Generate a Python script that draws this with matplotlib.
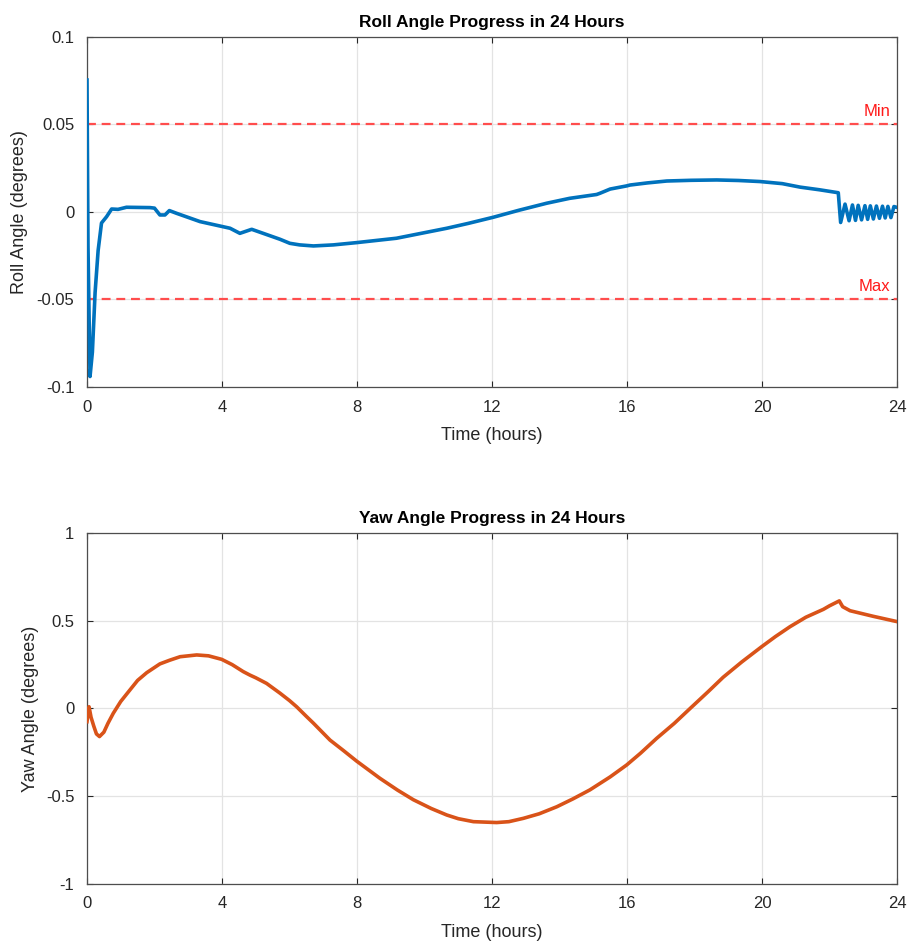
import numpy as np
import matplotlib
matplotlib.use("Agg")
from matplotlib import pyplot as plt

plt.rcParams['font.family'] = ['Liberation Sans', 'DejaVu Sans']

# roll angle samples (hours, degrees)
roll_t = [0.0, 0.03, 0.09, 0.16, 0.24, 0.33, 0.43, 0.58, 0.73, 0.92, 1.17, 1.87, 2.0,
          2.16, 2.31, 2.44, 2.66, 3.35, 4.24, 4.53, 4.88, 5.22, 5.72, 6.01, 6.3, 6.71,
          7.3, 7.99, 9.17, 10.66, 11.3, 12.04, 12.8, 13.62, 14.3, 15.1, 15.2, 15.5,
          15.99, 16.09, 16.6, 17.18, 17.9, 18.66, 19.3, 19.94, 20.6, 21.13, 21.7,
          22.26, 22.33,
          22.46, 22.58, 22.68, 22.77, 22.85, 22.95, 23.05, 23.13, 23.21, 23.3,
          23.39, 23.48, 23.57, 23.65, 23.73, 23.82, 23.91, 24.0]
roll_deg = [0.0754, -0.02, -0.094, -0.08, -0.046, -0.022, -0.0063, -0.0027, 0.0017,
            0.0015, 0.0027, 0.0025, 0.0022, -0.0017, -0.0017, 0.0008, -0.0008,
            -0.0055, -0.0093, -0.0122, -0.0099, -0.0122, -0.0156, -0.0179, -0.0188,
            -0.0194, -0.0188, -0.0175, -0.015, -0.0093, -0.0065, -0.003, 0.001,
            0.005, 0.0078, 0.0100, 0.0107, 0.0131, 0.0149, 0.0154, 0.0166, 0.0177,
            0.0181, 0.0183, 0.018, 0.0174, 0.0162, 0.0142, 0.0127, 0.011, -0.0060,
            0.0045, -0.0050, 0.0040, -0.0048, 0.0038, -0.0045, 0.0036, -0.0042,
            0.0035, -0.0040, 0.0034, -0.0036, 0.0033, -0.0034, 0.0032, -0.0032,
            0.0031, 0.0026]

# yaw angle samples (hours, degrees)
yaw_t = [0.0, 0.06, 0.12, 0.2, 0.28, 0.37, 0.5, 0.62, 0.78, 1.0, 1.27, 1.5, 1.77,
         2.16, 2.45, 2.76, 3.25, 3.6, 3.99, 4.3, 4.63, 4.83, 5.0, 5.32, 5.72, 6.0,
         6.21, 6.5, 6.71, 7.2, 7.6, 7.99, 8.68, 9.2, 9.67, 10.2, 10.66, 11.0, 11.45,
         12.14, 12.5, 12.93, 13.4, 13.92, 14.4, 14.9, 15.5, 15.99, 16.4, 16.88,
         17.4, 17.87, 18.4, 18.85, 19.4, 19.99, 20.4, 20.83, 21.3, 21.82, 22.0,
         22.29, 22.39, 22.61, 23.3, 24.0]
yaw_deg = [-0.075, 0.01, -0.05, -0.10, -0.145, -0.16, -0.135, -0.085, -0.027, 0.04,
           0.105, 0.16, 0.204, 0.254, 0.275, 0.295, 0.305, 0.30, 0.28, 0.25, 0.21,
           0.19, 0.175, 0.143, 0.087, 0.045, 0.01, -0.045, -0.084, -0.18, -0.24,
           -0.30, -0.398, -0.465, -0.52, -0.57, -0.607, -0.628, -0.645, -0.65,
           -0.645, -0.626, -0.6, -0.56, -0.515, -0.464, -0.39, -0.322, -0.255,
           -0.17, -0.085, 0.0, 0.095, 0.178, 0.265, 0.352, 0.41, 0.466, 0.52, 0.565,
           0.585, 0.613, 0.58, 0.557, 0.525, 0.495]

roll_limits = [0.05, -0.05]
limit_names = ['Min', 'Max']
hour_ticks = [0, 4, 8, 12, 16, 20, 24]

txt = '#262626'
grid_c = '#e3e3e3'

fig = plt.figure(figsize=(9.09, 9.43), dpi=100)
ax1 = fig.add_axes([0.0957, 0.5896, 0.8911, 0.3712])
ax2 = fig.add_axes([0.0957, 0.0626, 0.8911, 0.3722])


def style(ax):
    ax.set_xlim(0, 24)
    ax.set_xticks(hour_ticks)
    ax.grid(True, color=grid_c, linewidth=0.9)
    ax.set_axisbelow(True)
    ax.tick_params(direction='in', length=4, width=0.8, colors=txt,
                   labelsize=12, top=True, right=True, pad=9)
    for s in ax.spines.values():
        s.set_color('#4d4d4d')
        s.set_linewidth(0.9)


ax1.plot(roll_t, roll_deg, color='#0072BD', lw=2.6, zorder=3,
         solid_joinstyle='round')
for lim, name in zip(roll_limits, limit_names):
    ax1.axhline(lim, color='#ff4d4d', lw=1.6, ls=(0, (4, 2.6)), zorder=2)
    ax1.text(23.8, lim + 0.003, name, color='#ff1a1a', fontsize=12,
             ha='right', va='bottom')
ax1.set_ylim(-0.1, 0.1)
ax1.set_yticks([-0.1, -0.05, 0, 0.05, 0.1])
ax1.set_yticklabels(['-0.1', '-0.05', '0', '0.05', '0.1'])
style(ax1)
ax1.set_title('Roll Angle Progress in 24 Hours', fontsize=12.5, fontweight='bold',
              color='black', pad=7)
ax1.set_xlabel('Time (hours)', fontsize=13, color=txt, labelpad=9)
ax1.set_ylabel('Roll Angle (degrees)', fontsize=13, color=txt, labelpad=6)

ax2.plot(yaw_t, yaw_deg, color='#D95319', lw=2.6, zorder=3,
         solid_joinstyle='round')
ax2.set_ylim(-1, 1)
ax2.set_yticks([-1, -0.5, 0, 0.5, 1])
ax2.set_yticklabels(['-1', '-0.5', '0', '0.5', '1'])
style(ax2)
ax2.set_title('Yaw Angle Progress in 24 Hours', fontsize=12.5, fontweight='bold',
              color='black', pad=7)
ax2.set_xlabel('Time (hours)', fontsize=13, color=txt, labelpad=9)
ax2.set_ylabel('Yaw Angle (degrees)', fontsize=13, color=txt, labelpad=5)

fig.savefig('out.png', dpi=100)
